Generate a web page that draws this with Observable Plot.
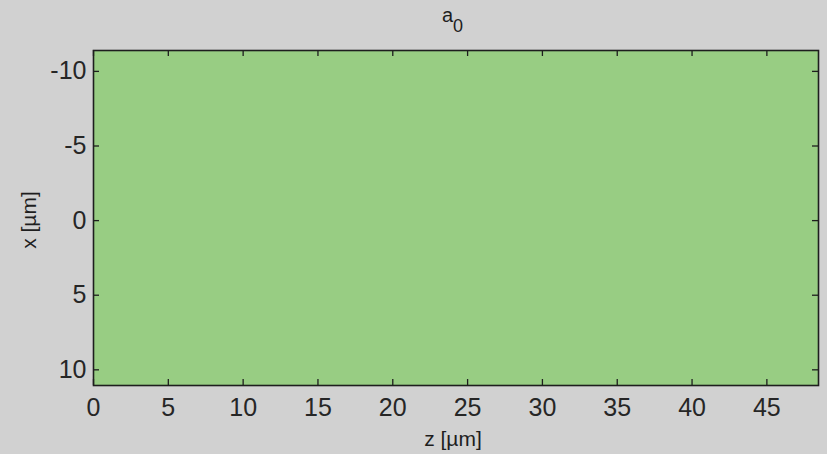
<!DOCTYPE html>
<html>
<head>
<meta charset="utf-8">
<script src="https://cdn.jsdelivr.net/npm/d3@7"></script>
<script src="https://cdn.jsdelivr.net/npm/@observablehq/plot@0.6"></script>
<style>
  html, body { margin: 0; padding: 0; background: #d1d1d1; }
  #chart svg { display: block; background: #d1d1d1; }
</style>
</head>
<body>
<div id="chart"></div>
<script>
// Extent of the simulated domain (µm)
const zRange = [0, 48.45];
const xRange = [-11.4, 11.05];

// Tick values along each axis
const zTicks = [0, 5, 10, 15, 20, 25, 30, 35, 40, 45];
const xTicks = [-10, -5, 0, 5, 10];

// Field a0 is uniform over the whole domain
const a0Level = [1];

// Axis and title text
const zLabel = ["z [µm]"];
const xLabel = ["x [µm]"];
const titleBase = ["a"];
const titleSub = ["0"];

const green = "#98cd83";
const ink = "#1e1e1e";
const font = "Liberation Sans, Arial, sans-serif";

const W = 827, H = 454;
const mTop = 50, mBottom = 69, mLeft = 93, mRight = 9;
const frameW = W - mLeft - mRight, frameH = H - mTop - mBottom;
const tickLen = 6;

const chart = Plot.plot({
  width: W,
  height: H,
  marginTop: mTop,
  marginBottom: mBottom,
  marginLeft: mLeft,
  marginRight: mRight,
  style: { background: "#d1d1d1", fontFamily: font, color: ink, overflow: "visible" },
  x: { domain: zRange, ticks: zTicks },
  y: { domain: xRange, reverse: true, ticks: xTicks },
  marks: [
    // uniform field
    Plot.rect(a0Level, {
      x1: zRange[0], x2: zRange[1], y1: xRange[0], y2: xRange[1],
      fill: green
    }),
    // inward ticks: bottom, top, left, right
    Plot.tickX(zTicks, { x: d => d, stroke: ink, strokeWidth: 1.3, insetTop: frameH - tickLen }),
    Plot.tickX(zTicks, { x: d => d, stroke: ink, strokeWidth: 1.3, insetBottom: frameH - tickLen }),
    Plot.tickY(xTicks, { y: d => d, stroke: ink, strokeWidth: 1.3, insetRight: frameW - tickLen }),
    Plot.tickY(xTicks, { y: d => d, stroke: ink, strokeWidth: 1.3, insetLeft: frameW - tickLen }),
    // tick labels
    Plot.axisX(zTicks, {
      anchor: "bottom", tickSize: 0, tickPadding: 13, fontSize: 25,
      tickFormat: d => String(d), label: null, fill: "#262626"
    }),
    Plot.axisY(xTicks, {
      anchor: "left", tickSize: 0, tickPadding: 7, fontSize: 25,
      tickFormat: d => String(d), label: null, fill: "#262626"
    }),
    // border
    Plot.frame({ stroke: ink, strokeWidth: 1.6 }),
    // axis labels
    Plot.text(zLabel, {
      frameAnchor: "bottom", dx: -3, dy: 54, fontSize: 21, fill: ink,
      text: d => d, textAnchor: "middle", lineAnchor: "middle"
    }),
    Plot.text(xLabel, {
      frameAnchor: "left", dx: -64, dy: 2, rotate: -90, fontSize: 21, fill: ink,
      text: d => d, textAnchor: "middle", lineAnchor: "middle"
    }),
    // title a₀
    Plot.text(titleBase, {
      frameAnchor: "top", dx: -8.5, dy: -35.4, fontSize: 20, fill: ink,
      text: d => d, lineAnchor: "middle"
    }),
    Plot.text(titleSub, {
      frameAnchor: "top", dx: 2, dy: -23.8, fontSize: 18, fill: ink,
      text: d => d, lineAnchor: "middle"
    })
  ]
});

document.getElementById("chart").append(chart);
</script>
</body>
</html>
